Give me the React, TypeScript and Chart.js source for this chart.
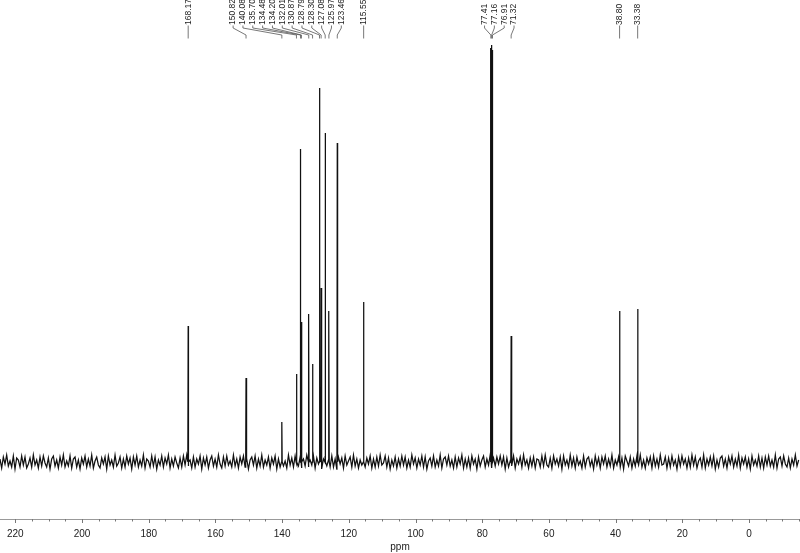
import React, { useEffect, useRef } from "react";
import { Chart, registerables } from "chart.js";

Chart.register(...registerables);

// 13C NMR peaks (ppm) and their relative intensities (arbitrary units)
const peakShifts = [
  168.17, 150.82, 140.08, 135.7, 134.48, 134.2, 132.01, 130.87, 128.79, 128.3,
  127.08, 125.97, 123.46, 115.55, 77.41, 77.16, 76.91, 71.32, 38.8, 33.38,
];
const peakHeights = [
  136, 84, 40, 88, 313, 140, 148, 98, 374, 174,
  329, 151, 319, 160, 414, 417, 412, 126, 151, 153,
];
const peakLabels = [
  "168.17", "150.82", "140.08", "135.70", "134.48", "134.20", "132.01", "130.87", "128.79", "128.30",
  "127.08", "125.97", "123.46", "115.55", "77.41", "77.16", "76.91", "71.32", "38.80", "33.38",
];

// baseline noise (arbitrary units), sampled from left (high ppm) to right
const noiseStartPpm = 224.6;
const noiseStepPpm = 0.5;
const noise = [
  3, -6, 5, -2, 7, -4, 1, -5, 6, -7, 4, 2, -5, 6, -3, 5, -6, -2, 4, -5,
  7, -3, 2, -6, 5, -4, 6, -1, -5, 4, -7, 3, 6, -4, 2, -6, 5, -3, 7, -5,
  1, -4, 6, -6, 3, 5, -5, 2, -7, 4, -2, 6, -5, 3, -4, 7, -6, 1, 5, -3,
  -6, 4, -2, 5, -7, 6, -3, 2, -5, 7, -4, -1, 5, -6, 3, -5, 6, -2, 4, -7,
  5, -3, 6, -5, 2, -4, 7, -6, 3, 1, -5, 6, -4, 5, -7, 2, -3, 6, -5, 4,
  -2, 7, -6, 3, -4, 5, -1, -6, 4, -5, 6, -3, 7, -4, 2, -6, 5, -5, 3, -2,
  6, -7, 4, -3, 5, -6, 2, 6, -4, 3, -5, 7, -2, -6, 5, -4, 6, -3, 1, -5,
  7, -4, 3, -6, 5, -2, 6, -5, 4, -7, 2, 5, -3, 6, -6, 3, -4, 7, -5, 2,
  -3, 5, -6, 4, -2, 6, -7, 3, -5, 5, -4, 1, -6, 7, -3, 4, -5, 6, -2, -4,
  5, -6, 3, -4, 7, -5, 2, -3, 6, -6, 4, -2, 5, -7, 3, 6, -4, 2, -5, 6,
  -5, 3, -7, 5, -2, 4, -6, 6, -3, 1, 5, -5, 7, -4, 3, -6, 2, -3, 6, -5,
  4, -2, 6, -6, 3, -5, 5, -4, 7, -3, -1, 6, -5, 4, -7, 2, -4, 5, -6, 3,
  -4, 6, -3, 5, -6, 2, -5, 7, -2, 4, -6, 3, -3, 6, -5, 5, -7, 1, 4, -4,
  6, -5, 2, -4, 7, -6, 3, 5, -3, 6, -4, 2, -6, 5, -5, 4, -2, 7, -6, 3,
  -5, 4, -6, 6, -2, 3, -7, 5, -4, 2, 6, -5, 3, -3, 7, -6, 4, -4, 5, -2,
  6, -3, 5, -7, 4, -5, 1, -4, 6, -6, 3, -2, 5, -5, 7, -3, 2, -6, 4, -4,
  5, -6, 3, 2, -5, 6, -4, 7, -3, -5, 4, -6, 6, -2, 3, -4, 5, -7, 6, -3,
  2, -5, 7, -4, 4, -6, 5, -3, 1, -6, 6, -5, 3, 5, -4, 2, -7, 6, -3, 4,
  -6, 5, -2, 6, -5, 3, -4, 7, -6, 2, -3, 5, -5, 4, -7, 6, 1, -4, 5, -6,
  3, -4, 6, -3, 7, -5, 2, -6, 4, -2, 5, -6, 6, -4, 3, -5, 7, -3, -2, 5,
  -6, 4, -5, 6, -3, 2, -7, 5, -4, 6, -2, 3, -6, 4, -5, 7, -3, 5, -6, 1,
  4, -5, 7, -6, 3, -3, 5, -4, 6, -7, 2, -5, 4, 6, -4, 3, -6, 5, -2, 6,
  -5, 3, -4, 7, -6, 4, -2, 5, -5, 3, -7, 6, -3, 2, -4, 6, -5, 4, -6, 5,
  -3, 6, -4, 2, -5, 7, -6, 3, 5, -4, 6, -2, -5, 4, -6, 3, -3, 7, -4, 2,
];

// axis
const axisMinPpm = -15.3;
const axisMaxPpm = 224.6;
const minorStep = 5;
const majorStep = 20;

// label layout groups (label slots spread evenly, in ppm)
const labelGroups = [
  { first: 1, count: 12, startPpm: 154.7, stepPpm: -2.95 },
  { first: 14, count: 4, startPpm: 79.3, stepPpm: -2.95 },
];

function buildSpectrum() {
  const pts: { x: number; y: number }[] = [];
  noise.forEach((n, i) => pts.push({ x: noiseStartPpm - i * noiseStepPpm, y: n }));
  peakShifts.forEach((p, i) => {
    pts.push({ x: p + 0.1, y: 0 }, { x: p, y: peakHeights[i] }, { x: p - 0.1, y: 0 });
  });
  pts.sort((a, b) => b.x - a.x);
  return pts;
}

function labelSlots() {
  const slots = peakShifts.slice();
  labelGroups.forEach((g) => {
    for (let k = 0; k < g.count; k++) slots[g.first + k] = g.startPpm + k * g.stepPpm;
  });
  return slots;
}

const FONT = '"Liberation Sans", "DejaVu Sans", sans-serif';

const peakLabelPlugin = {
  id: "peakLabels",
  afterDraw(chart: any) {
    const { ctx } = chart;
    const sx = chart.scales.x;
    const slots = labelSlots();
    ctx.save();
    ctx.font = `8.5px ${FONT}`;
    ctx.fillStyle = "#222";
    ctx.strokeStyle = "#555";
    ctx.lineWidth = 0.8;
    peakShifts.forEach((p, i) => {
      const px = sx.getPixelForValue(p);
      const lx = sx.getPixelForValue(slots[i]);
      ctx.beginPath();
      ctx.moveTo(lx, 25.5);
      ctx.lineTo(lx, 28);
      ctx.lineTo(px, 35);
      ctx.lineTo(px, 38.5);
      ctx.stroke();
      ctx.save();
      ctx.translate(lx, 25);
      ctx.rotate(-Math.PI / 2);
      ctx.textAlign = "left";
      ctx.textBaseline = "middle";
      ctx.fillText(peakLabels[i], 0, 0);
      ctx.restore();
    });
    ctx.restore();
  },
};

const tickMarkPlugin = {
  id: "tickMarks",
  afterDraw(chart: any) {
    const { ctx, chartArea } = chart;
    const sx = chart.scales.x;
    ctx.save();
    ctx.strokeStyle = "#777";
    ctx.lineWidth = 1;
    sx.ticks.forEach((t: any) => {
      const px = Math.round(sx.getPixelForValue(t.value)) + 0.5;
      const len = t.value % majorStep === 0 ? 4 : 2.5;
      ctx.beginPath();
      ctx.moveTo(px, chartArea.bottom);
      ctx.lineTo(px, chartArea.bottom + len);
      ctx.stroke();
    });
    ctx.restore();
  },
};

export default function App() {
  const canvasRef = useRef<HTMLCanvasElement | null>(null);

  useEffect(() => {
    if (!canvasRef.current) return;
    const chart = new Chart(canvasRef.current, {
      type: "line",
      data: {
        datasets: [
          {
            data: buildSpectrum(),
            borderColor: "#111",
            borderWidth: 1.25,
            pointRadius: 0,
            tension: 0,
            fill: false,
          },
        ],
      },
      options: {
        animation: false,
        responsive: false,
        devicePixelRatio: 1,
        layout: { padding: { left: 0, right: 0, top: 0, bottom: 0 } },
        plugins: {
          legend: { display: false },
          tooltip: { enabled: false },
        },
        scales: {
          x: {
            type: "linear",
            reverse: true,
            min: axisMinPpm,
            max: axisMaxPpm,
            afterFit: (scale: any) => {
              scale.paddingLeft = 0;
              scale.paddingRight = 0;
            },
            border: { display: true, color: "#999", width: 1 },
            grid: { display: false, drawTicks: false },
            ticks: {
              stepSize: minorStep,
              autoSkip: false,
              includeBounds: false,
              maxRotation: 0,
              minRotation: 0,
              padding: 9,
              color: "#222",
              font: { family: FONT, size: 10 },
              callback: (v: any) => (Number(v) % majorStep === 0 ? String(v) : ""),
            },
            title: {
              display: true,
              text: "ppm",
              color: "#222",
              font: { family: FONT, size: 10 },
              padding: { top: -8, bottom: 0 },
            },
          },
          y: { display: false, min: -57, max: 462 },
        },
      },
      plugins: [peakLabelPlugin, tickMarkPlugin],
    } as any);
    return () => chart.destroy();
  }, []);

  return (
    <div style={{ position: "fixed", left: 0, top: 0, width: 800, height: 553, background: "#fff" }}>
      <canvas ref={canvasRef} width={800} height={553} style={{ display: "block" }} />
    </div>
  );
}
